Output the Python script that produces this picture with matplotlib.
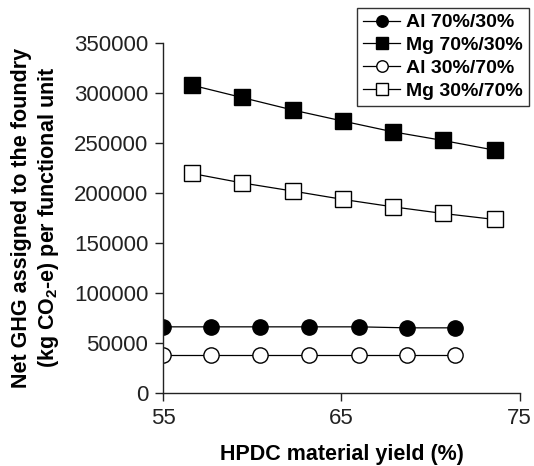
import matplotlib
matplotlib.use("Agg")
import matplotlib.pyplot as plt

plt.rcParams['font.family'] = ['Liberation Sans', 'DejaVu Sans']
plt.rcParams['mathtext.fontset'] = 'custom'
plt.rcParams['mathtext.rm'] = 'Liberation Sans'
plt.rcParams['mathtext.bf'] = 'Liberation Sans:bold'

# Data
al_x = [55.0, 57.7, 60.4, 63.2, 66.0, 68.7, 71.4]
al_70_30 = [66000, 66000, 66000, 66000, 66000, 65000, 65000]
al_30_70 = [37500, 37500, 37500, 37500, 37500, 37500, 37500]
mg_x = [56.6, 59.4, 62.3, 65.1, 67.9, 70.7, 73.6]
mg_70_30 = [307700, 295400, 282700, 271700, 261000, 252400, 242700]
mg_30_70 = [219400, 210000, 201700, 193400, 186000, 179400, 173400]
labels = ['Al 70%/30%', 'Mg 70%/30%', 'Al 30%/70%', 'Mg 30%/70%']
x_ticks = [55, 65, 75]
y_ticks = [0, 50000, 100000, 150000, 200000, 250000, 300000, 350000]

fig = plt.figure(figsize=(5.34, 4.66), dpi=100)
ax = fig.add_axes([0.306, 0.157, 0.667, 0.751])

lw = 0.9
ax.plot(al_x, al_70_30, '-', color='black', lw=lw, marker='o', ms=11,
        mfc='black', mec='black', label=labels[0])
ax.plot(mg_x, mg_70_30, '-', color='black', lw=lw, marker='s', ms=12,
        mfc='black', mec='black', label=labels[1])
ax.plot(al_x, al_30_70, '-', color='black', lw=lw, marker='o', ms=11,
        mfc='white', mec='black', mew=1.0, label=labels[2])
ax.plot(mg_x, mg_30_70, '-', color='black', lw=lw, marker='s', ms=12,
        mfc='white', mec='black', mew=1.0, label=labels[3])

ax.set_xlim(55, 75)
ax.set_ylim(0, 350000)
ax.set_xticks(x_ticks)
ax.set_yticks(y_ticks)
ax.spines['top'].set_visible(False)
ax.spines['right'].set_visible(False)
for s in ['left', 'bottom']:
    ax.spines[s].set_linewidth(1.0)
    ax.spines[s].set_color('#222222')
ax.tick_params(axis='both', direction='out', length=6, width=1.0,
               labelsize=16, colors='#222222')
ax.tick_params(axis='y', pad=5)
ax.tick_params(axis='x', pad=5)

ax.set_xlabel('HPDC material yield (%)', fontsize=15.5, fontweight='bold',
              labelpad=11)
ax.set_ylabel('Net GHG assigned to the foundry\n'
              r'(kg CO$_{\mathregular{2}}$-e) per functional unit',
              fontsize=15.5, fontweight='bold', labelpad=9, linespacing=1.22)

leg = fig.legend(loc='upper right', bbox_to_anchor=(0.99, 0.983),
                 frameon=True, fancybox=False, edgecolor='black',
                 prop={'weight': 'bold', 'size': 14}, markerscale=0.75,
                 handlelength=1.9, handletextpad=0.3, borderpad=0.3,
                 labelspacing=0.27, borderaxespad=0)
leg.get_frame().set_linewidth(1.0)

fig.savefig('out.png', dpi=100)
